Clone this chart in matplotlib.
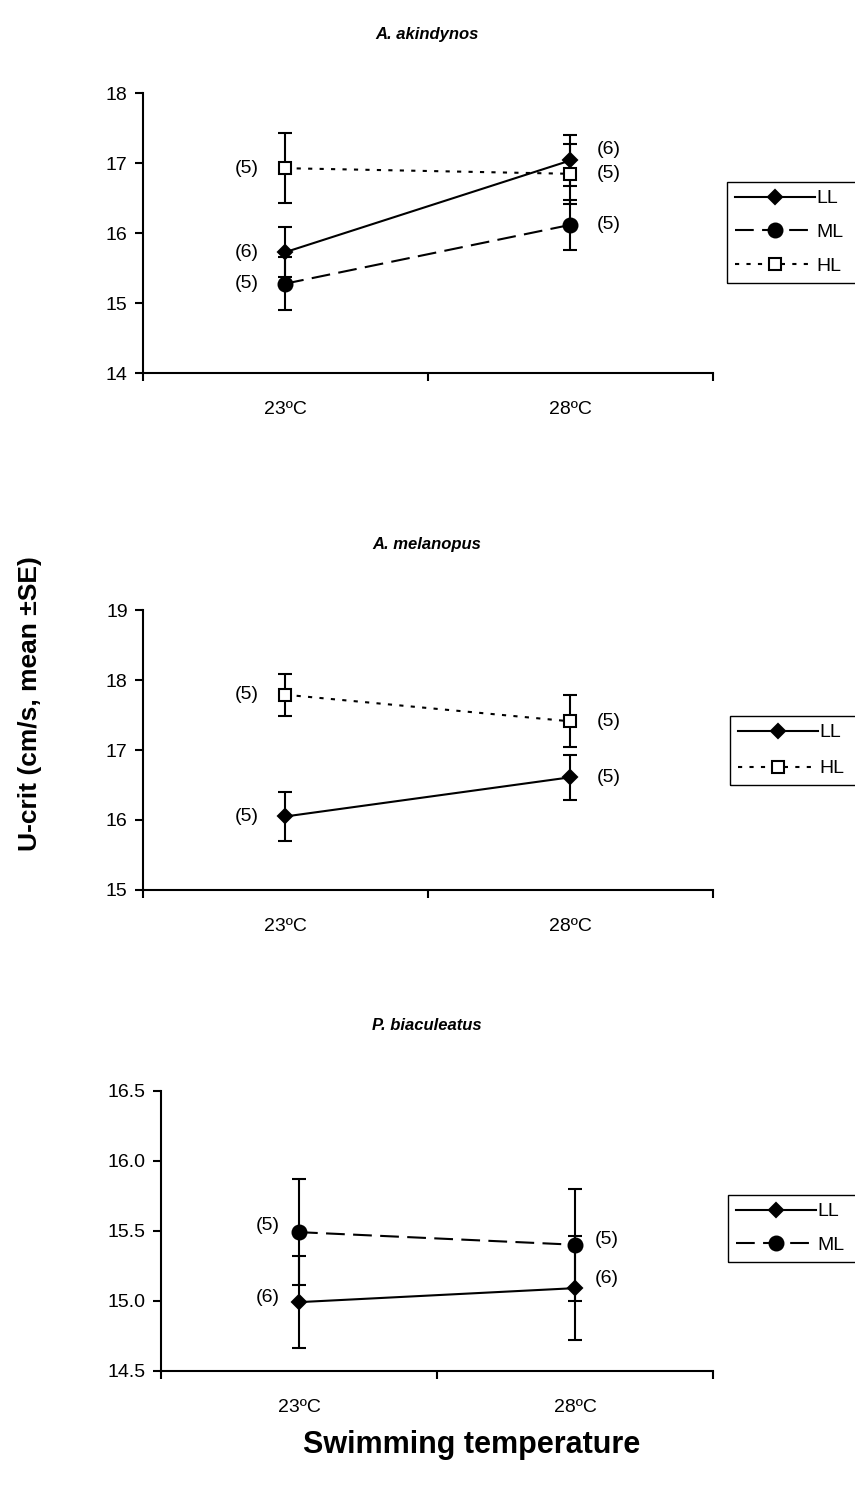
import matplotlib
matplotlib.use('Agg')
import matplotlib.pyplot as plt
from matplotlib.patches import Rectangle

plt.rcParams['font.family'] = ['Liberation Sans', 'DejaVu Sans']

temps = ['23ºC', '28ºC']

# A. akindynos
ak_ll = [15.73, 17.04]
ak_ll_se = [0.36, 0.36]
ak_ll_n = [6, 6]
ak_ml = [15.28, 16.12]
ak_ml_se = [0.38, 0.36]
ak_ml_n = [5, 5]
ak_hl = [16.93, 16.85]
ak_hl_se = [0.50, 0.43]
ak_hl_n = [5, 5]

# A. melanopus
me_ll = [16.05, 16.61]
me_ll_se = [0.35, 0.32]
me_ll_n = [5, 5]
me_hl = [17.79, 17.41]
me_hl_se = [0.30, 0.37]
me_hl_n = [5, 5]

# P. biaculeatus
pb_ll = [14.99, 15.09]
pb_ll_se = [0.33, 0.37]
pb_ll_n = [6, 6]
pb_ml = [15.49, 15.40]
pb_ml_se = [0.38, 0.40]
pb_ml_n = [5, 5]

styles = {
    'LL': dict(ls='-', marker='D', ms=7, mfc='black'),
    'ML': dict(ls=(0, (9, 4)), marker='o', ms=10, mfc='black'),
    'HL': dict(ls=(0, (2, 3.5)), marker='s', ms=8.5, mfc='white'),
}

FS = 14


def draw_series(ax, x, y, se, n, level, lab_off):
    st = styles[level]
    c = ax.errorbar(x, y, yerr=se, color='black', lw=1.5, ls=st['ls'],
                    marker=st['marker'], ms=st['ms'], mfc=st['mfc'], mec='black',
                    mew=1.5, elinewidth=1.5, ecolor='black', capsize=5,
                    capthick=1.5)
    # sample sizes left of first point, right of second
    (dx0, dy0), (dx1, dy1) = lab_off
    ax.annotate('(%d)' % n[0], (x[0], y[0]), xytext=(dx0, dy0),
                textcoords='offset points', ha='right', va='center', fontsize=FS)
    ax.annotate('(%d)' % n[1], (x[1], y[1]), xytext=(dx1, dy1),
                textcoords='offset points', ha='left', va='center', fontsize=FS)
    return c[0]


def style_axes(ax, ylim, yticks, fmt):
    ax.set_xlim(0.5, 2.5)
    ax.set_ylim(*ylim)
    ax.set_yticks(yticks)
    ax.set_yticklabels([fmt % v for v in yticks])
    ax.set_xticks([0.5, 1.5, 2.5])
    ax.set_xticklabels([])
    ax.set_xticks([1, 2], minor=True)
    ax.set_xticklabels(temps, minor=True)
    ax.tick_params(axis='x', which='minor', length=0, pad=20, labelsize=FS)
    ax.tick_params(axis='both', which='major', direction='out', length=5.8,
                   width=1.5, labelsize=FS, pad=5)
    for s in ['top', 'right']:
        ax.spines[s].set_visible(False)
    for s in ['left', 'bottom']:
        ax.spines[s].set_linewidth(1.5)


def add_legend(ax, fig, handles, labels, x, y, spacing=0.83):
    leg = ax.legend(handles, labels, loc='upper left', bbox_to_anchor=(x, y),
                    bbox_transform=fig.transFigure, borderaxespad=0,
                    numpoints=1, handlelength=4.1, handletextpad=0.1,
                    labelspacing=spacing, fontsize=FS, fancybox=False,
                    framealpha=1, edgecolor='black', borderpad=0.4)
    leg.get_frame().set_linewidth(1.0)
    return leg


fig = plt.figure(figsize=(8.55, 14.93), dpi=100)
x = [1, 2]
legends = []

# panel 1
ax1 = fig.add_axes([0.1669, 0.7500, 0.6667, 0.1875])
h1 = draw_series(ax1, x, ak_ll, ak_ll_se, ak_ll_n, 'LL', [(-19, 0), (19, 8)])
h2 = draw_series(ax1, x, ak_ml, ak_ml_se, ak_ml_n, 'ML', [(-19, 0), (19, 0)])
h3 = draw_series(ax1, x, ak_hl, ak_hl_se, ak_hl_n, 'HL', [(-19, 0), (19, 0)])
style_axes(ax1, (14, 18), [14, 15, 16, 17, 18], '%d')
legends.append(add_legend(ax1, fig, [h1, h2, h3], ['LL', 'ML', 'HL'],
                          727 / 855, 1 - 182 / 1493))

# panel 2
ax2 = fig.add_axes([0.1669, 0.4039, 0.6667, 0.1875])
h1 = draw_series(ax2, x, me_ll, me_ll_se, me_ll_n, 'LL', [(-19, 0), (19, 0)])
h3 = draw_series(ax2, x, me_hl, me_hl_se, me_hl_n, 'HL', [(-19, 0), (19, 0)])
style_axes(ax2, (15, 19), [15, 16, 17, 18, 19], '%d')
legends.append(add_legend(ax2, fig, [h1, h3], ['LL', 'HL'],
                          730 / 855, 1 - 716 / 1493, 0.95))

# panel 3
ax3 = fig.add_axes([0.1883, 0.0819, 0.6456, 0.1875])
h1 = draw_series(ax3, x, pb_ll, pb_ll_se, pb_ll_n, 'LL', [(-14, 3), (14, 7)])
h2 = draw_series(ax3, x, pb_ml, pb_ml_se, pb_ml_n, 'ML', [(-14, 5), (14, 4)])
style_axes(ax3, (14.5, 16.5), [14.5, 15.0, 15.5, 16.0, 16.5], '%.1f')
legends.append(add_legend(ax3, fig, [h1, h2], ['LL', 'ML'],
                          728 / 855, 1 - 1195 / 1493))

tkw = dict(ha='center', va='center', fontsize=12, fontweight='bold',
           fontstyle='italic')
fig.text(427 / 855, 1 - 35 / 1493, 'A. akindynos', **tkw)
fig.text(427 / 855, 1 - 545 / 1493, 'A. melanopus', **tkw)
fig.text(427 / 855, 1 - 1025 / 1493, 'P. biaculeatus', **tkw)

fig.text(30 / 855, 1 - 704 / 1493, 'U-crit (cm/s, mean ±SE)', rotation=90,
         ha='center', va='center', fontsize=19, fontweight='bold')
fig.text(472 / 855, 1 - 1445 / 1493, 'Swimming temperature',
         ha='center', va='center', fontsize=22, fontweight='bold')

# the legend boxes in the original run past the right edge of the figure
fig.canvas.draw()
for leg in legends:
    bb = leg.get_frame().get_window_extent().transformed(fig.transFigure.inverted())
    leg.get_frame().set_visible(False)
    fig.patches.append(Rectangle((bb.x0, bb.y0), 0.3, bb.height,
                                 transform=fig.transFigure, fill=False,
                                 ec='black', lw=1.0))

fig.savefig('out.png', dpi=100)
